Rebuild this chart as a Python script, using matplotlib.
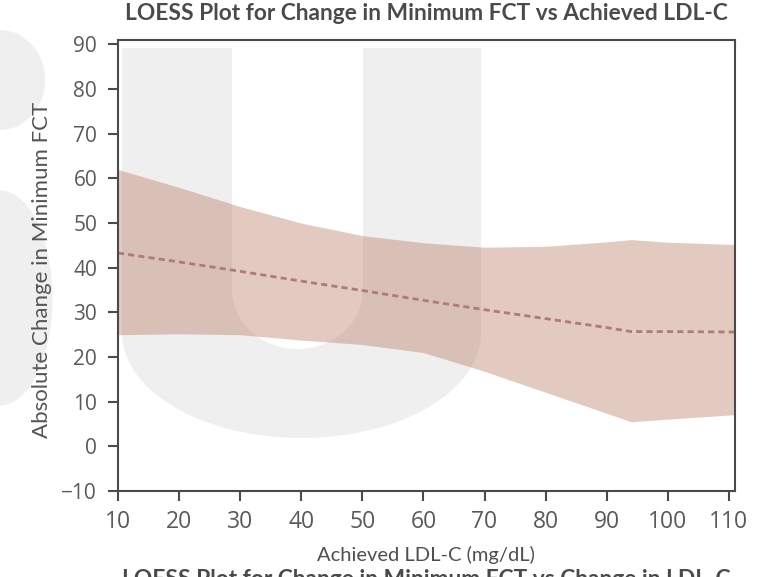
import matplotlib
matplotlib.use("Agg")
import matplotlib.pyplot as plt
from matplotlib.patches import Ellipse, PathPatch
from matplotlib.path import Path
from matplotlib.transforms import Affine2D
import numpy as np

# LOESS fit of change in minimum FCT against achieved LDL-C, with its band
ldl = [10, 20, 30, 40, 50, 60, 70, 80, 90, 94, 100, 111]
fit = [43.3, 41.3, 39.2, 37.0, 34.9, 32.7, 30.6, 28.6, 26.6, 25.7, 25.7, 25.6]
upper = [62.0, 58.0, 53.7, 50.0, 47.2, 45.6, 44.6, 44.8, 45.8, 46.3, 45.7, 45.2]
lower = [25.0, 25.2, 25.0, 23.8, 22.8, 21.0, 16.8, 12.1, 7.4, 5.5, 6.1, 7.1]

x_ticks = list(range(10, 111, 10))
y_ticks = list(range(-10, 91, 10))

W, H = 777, 577
fig = plt.figure(figsize=(W / 100, H / 100), dpi=100)
fig.patch.set_facecolor("white")

# pixel coordinates, origin top-left
px = Affine2D().scale(1 / W, -1 / H).translate(0, 1) + fig.transFigure

# faint background lettering
mark = "#efefef"
t = np.linspace(np.pi, 0, 60)
outer = [(122, 48)] + [(301.5 + 179.5 * np.cos(a), 333 + 105 * np.sin(a)) for a in t] + [(481, 48)]
t2 = np.linspace(0, np.pi, 60)
inner = [(363, 48)] + [(297.5 + 65.5 * np.cos(a), 290 + 59 * np.sin(a)) for a in t2] + [(232, 48)]
verts = outer + inner + [(122, 48)]
codes = [Path.MOVETO] + [Path.LINETO] * (len(verts) - 2) + [Path.CLOSEPOLY]
fig.patches.append(PathPatch(Path(verts, codes), facecolor=mark, edgecolor="none",
                             transform=px, zorder=-5))
fig.patches.append(Ellipse((0, 80), 90, 100, facecolor=mark, edgecolor="none",
                           transform=px, zorder=-5))
fig.patches.append(Ellipse((0, 298), 105, 215, facecolor=mark, edgecolor="none",
                           transform=px, zorder=-5))

ax = fig.add_axes([118 / W, 1 - 491 / H, (735 - 118) / W, (491 - 40) / H])
ax.set_facecolor("none")

ax.fill_between(ldl, lower, upper, color="#b67861", alpha=0.39, linewidth=0)
ax.plot(ldl, fit, color="#b07b72", linewidth=2, linestyle=(0, (2.2, 1.5)))

ax.set_xlim(10, 111)
ax.set_ylim(-10, 91)
ax.set_xticks(x_ticks)
ax.set_yticks(y_ticks)

for s in ax.spines.values():
    s.set_linewidth(1.5)
    s.set_color("#4a4a4a")

ax.tick_params(axis="both", direction="out", length=7, width=1.5, color="#4a4a4a",
               labelcolor="#5a5a5a")
ax.tick_params(axis="y", pad=8, labelsize=15)
ax.tick_params(axis="x", pad=7, labelsize=16.5)
for lab in ax.get_xticklabels() + ax.get_yticklabels():
    lab.set_family("Open Sans")

fig.text(426, 14, "LOESS Plot for Change in Minimum FCT vs Achieved LDL-C", transform=px,
         ha="center", va="center", fontsize=16.4, fontweight="bold", color="#4a4a4a",
         family="Lato")
fig.text(426, 555, "Achieved LDL-C (mg/dL)", transform=px, ha="center", va="center",
         fontsize=14.5, color="#4f4f4f", family="Lato")
fig.text(42, 270, "Absolute Change in Minimum FCT", transform=px, ha="center",
         va="center", rotation=90, fontsize=16, color="#555555", family="Lato")
fig.text(426, 569, "LOESS Plot for Change in Minimum FCT vs Change in LDL-C", transform=px,
         ha="center", va="top", fontsize=16.4, fontweight="bold", color="#4a4a4a",
         family="Lato")

fig.savefig("out.png", dpi=100)
